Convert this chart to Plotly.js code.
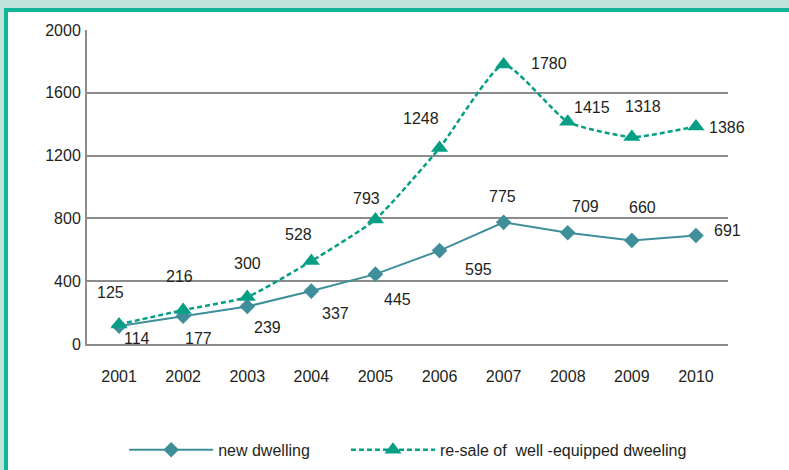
<!DOCTYPE html>
<html>
<head>
<meta charset="utf-8">
<script src="https://cdn.plot.ly/plotly-3.0.1.min.js"></script>
<style>
  html, body { margin: 0; padding: 0; width: 789px; height: 470px; overflow: hidden; background: #ffffff; }
  #band { position: absolute; left: 0; top: 0; width: 789px; height: 470px; background: #bde3da; }
  #frame { position: absolute; left: 4px; top: 8px; width: 785px; height: 462px; background: #ffffff;
           border-left: 4px solid #12b598; border-top: 4px solid #12b598; box-sizing: border-box; }
  #chart { position: absolute; left: 0; top: 0; width: 789px; height: 470px; }
</style>
</head>
<body>
<div id="band"></div>
<div id="frame"></div>
<div id="chart"></div>
<script>
const years = ['2001','2002','2003','2004','2005','2006','2007','2008','2009','2010'];
const newDwelling = [114, 177, 239, 337, 445, 595, 775, 709, 660, 691];
const resale = [125, 216, 300, 528, 793, 1248, 1780, 1415, 1318, 1386];
const yTicks = [0, 400, 800, 1200, 1600, 2000];

// label offsets in pixels (style, not data)
const newOffX = [18, 15, 20, 24, 22, 39, -1, 18, 11, 32];
const newOffY = [-12, -22, -21, -22, -25, -19, 26, 26, 33, 5];
const resOffX = [-9, -4, 0, -13, -9, -19, 45, 24, 11, 31];
const resOffY = [32, 34, 33, 27, 21, 30, 1, 14, 31, -1];

const newColor = '#3f8f9b';
const resColor = '#069e84';
const textColor = '#231f20';
const font = 'Liberation Sans, Arial, sans-serif';
const fs = 16;

const traces = [
  {
    x: years, y: newDwelling, type: 'scatter', mode: 'lines+markers',
    name: 'new dwelling', legend: 'legend',
    line: { color: newColor, width: 2 },
    marker: { symbol: 'diamond', size: 12, color: newColor }
  },
  {
    x: years, y: resale, type: 'scatter', mode: 'lines+markers',
    name: 're-sale of  well -equipped dweeling', legend: 'legend2',
    line: { color: resColor, width: 2.5, dash: '5px,3px', shape: 'spline', smoothing: 0.5 },
    marker: { symbol: 'triangle-up', size: 15, color: resColor }
  }
];

const annotations = [];
years.forEach((yr, i) => {
  annotations.push({ xref: 'x', yref: 'y', x: i, y: newDwelling[i], text: String(newDwelling[i]), showarrow: false,
    xshift: newOffX[i], yshift: newOffY[i], font: { family: font, size: fs, color: textColor } });
  annotations.push({ xref: 'x', yref: 'y', x: i, y: resale[i], text: String(resale[i]), showarrow: false,
    xshift: resOffX[i], yshift: resOffY[i], font: { family: font, size: fs, color: textColor } });
});

const legendBase = {
  orientation: 'h', xanchor: 'left', y: -0.337, yanchor: 'middle',
  font: { family: font, size: fs, color: textColor },
  itemwidth: 84, bgcolor: 'rgba(0,0,0,0)'
};

const layout = {
  width: 789, height: 470,
  paper_bgcolor: 'rgba(0,0,0,0)', plot_bgcolor: 'rgba(0,0,0,0)',
  margin: { l: 87, r: 61, t: 30, b: 126, autoexpand: false },
  font: { family: font, size: fs, color: textColor },
  showlegend: true,
  legend: Object.assign({}, legendBase, { x: 0.058 }),
  legend2: Object.assign({}, legendBase, { x: 0.404 }),
  xaxis: {
    type: 'category', range: [-0.5, 9.5], fixedrange: true,
    showgrid: false, showline: true, linecolor: '#8c8c8c', linewidth: 2,
    ticks: '', ticklabelstandoff: 17,
    tickfont: { family: font, size: fs, color: textColor }
  },
  yaxis: {
    range: [0, 2000], tickvals: yTicks, ticktext: yTicks.map(String),
    showgrid: true, gridcolor: '#8c8c8c', gridwidth: 2,
    zeroline: true, zerolinecolor: '#8c8c8c', zerolinewidth: 2,
    showline: true, linecolor: '#8c8c8c', linewidth: 2,
    ticks: '', ticklabelstandoff: 1,
    tickfont: { family: font, size: fs, color: textColor }
  },
  annotations: annotations
};

Plotly.newPlot('chart', traces, layout, { displayModeBar: false, staticPlot: true });
</script>
</body>
</html>
